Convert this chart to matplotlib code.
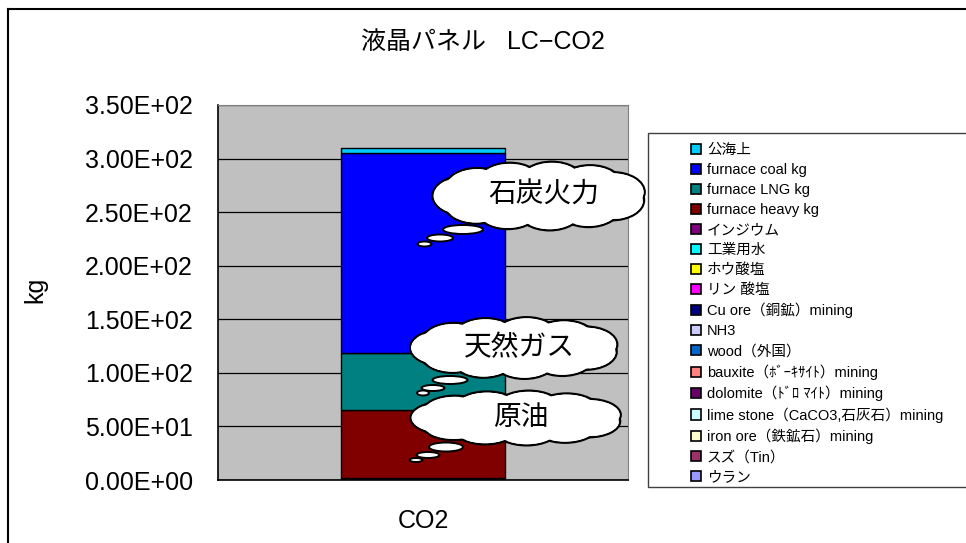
import numpy as np
import matplotlib
matplotlib.use("Agg")
import matplotlib.pyplot as plt
from matplotlib.patches import Ellipse, Rectangle, Patch

plt.rcParams['font.family'] = ['Liberation Sans', 'Noto Sans CJK JP']

# series, listed top of legend first (top of stack first)
labels = [
    "公海上", "furnace coal kg", "furnace LNG kg", "furnace heavy kg",
    "インジウム", "工業用水", "ホウ酸塩", "リン 酸塩", "Cu ore（銅鉱）mining",
    "NH3", "wood（外国）", "bauxite（ﾎﾞｰｷｻｲﾄ）mining",
    "dolomite（ﾄﾞﾛ ﾏｲﾄ）mining", "lime stone（CaCO3,石灰石）mining",
    "iron ore（鉄鉱石）mining", "スズ（Tin）", "ウラン",
]
values = [5.4, 186.6, 53.3, 63.0, 0.05, 0.02, 0.1, 0.05, 0.3,
          0.2, 0.1, 0.2, 0.05, 0.1, 0.4, 0.02, 0.3]
colors = [
    "#00CCFF", "#0000FF", "#008080", "#800000", "#800080", "#00FFFF",
    "#FFFF00", "#FF00FF", "#000080", "#CCCCFF", "#0066CC", "#FF8080",
    "#660066", "#CCFFFF", "#FFFFCC", "#993366", "#9999FF",
]
category = ["CO2"]
yticks = np.arange(0, 351, 50)

W, H = 966, 543
fig = plt.figure(figsize=(W / 100, H / 100), dpi=100)

ax = fig.add_axes([218 / W, 1 - 480 / H, 410 / W, 375 / H])
ax.set_facecolor("#C0C0C0")
ax.set_axisbelow(True)
ax.yaxis.grid(True, color="black", lw=0.9)

# stack from the bottom series (last in legend) upward
bottom = 0.0
for lab, val, col in reversed(list(zip(labels, values, colors))):
    ax.bar(0, val, width=0.4, bottom=bottom, color=col,
           edgecolor="black", lw=1.0)
    bottom += val

ax.set_xlim(-0.5, 0.5)
ax.set_ylim(0, 350)
ax.set_xticks([0])
ax.set_xticklabels(category, fontsize=18)
ax.set_yticks(yticks)
ax.set_yticklabels(["%.2E" % v for v in yticks], fontsize=18)
ax.tick_params(axis="x", length=0, pad=21)
ax.tick_params(axis="y", length=0, pad=18)
for s in ["top", "right"]:
    ax.spines[s].set_color("#808080")
for s in ["left", "bottom"]:
    ax.spines[s].set_color("black")
    ax.spines[s].set_linewidth(1.2)

fig.text(35 / W, 1 - 290 / H, "kg", rotation=90, fontsize=18,
         ha="center", va="center")
fig.text(483 / W, 1 - 42 / H, "液晶パネル   LC−CO2", fontsize=18,
         ha="center", va="center")

# overlay in pixel units for the chart border, clouds and legend box
ov = fig.add_axes([0, 0, 1, 1], zorder=3)
ov.set_xlim(0, W)
ov.set_ylim(H, 0)
ov.axis("off")
ov.patch.set_alpha(0)

ov.plot([8, W + 5], [9, 9], color="black", lw=1.5, clip_on=False)
ov.plot([8, 8], [9, H + 5], color="black", lw=1.5, clip_on=False)


def cloud(cx, cy, w, h, text, trail, n=11):
    a, b = w / 2, h / 2
    bw, bh = w * 0.30, h * 0.58
    ra, rb = a - bw / 2, b - bh / 2
    bumps = []
    for k in range(n):
        t = 2 * np.pi * k / n + 0.3
        bumps.append((cx + ra * np.cos(t), cy + rb * np.sin(t)))
    for (x, y) in bumps:
        ov.add_patch(Ellipse((x, y), bw, bh, facecolor="white",
                             edgecolor="black", lw=1.6, zorder=1))
    for (x, y) in bumps:
        ov.add_patch(Ellipse((x, y), bw - 2.5, bh - 2.5, facecolor="white",
                             edgecolor="none", zorder=2))
    ov.add_patch(Ellipse((cx, cy), 2 * ra + bw * 0.6, 2 * rb + bh * 0.6,
                         facecolor="white", edgecolor="none", zorder=2))
    for (x, y, ew, eh) in trail:
        ov.add_patch(Ellipse((x, y), ew, eh, facecolor="white",
                             edgecolor="black", lw=1.4, zorder=2))
    ov.text(cx + 4, cy, text, fontsize=20, ha="center", va="center", zorder=4)


cloud(540, 196, 215, 69, "石炭火力",
      [(463, 229.5, 40, 9), (440, 238, 26, 7), (424.5, 244, 14, 5)])
cloud(515, 348, 210, 62, "天然ガス",
      [(450, 380, 35, 8), (433, 388, 23, 6), (423, 393, 12, 5)])
cloud(517, 418, 213, 55, "原油",
      [(446, 447, 34, 9), (428, 455, 23, 6), (416, 460, 13, 4)])

ov.add_patch(Rectangle((648, 133), 400, 354, facecolor="white",
                       edgecolor="#404040", lw=1.0, zorder=5, clip_on=False))

handles = [Patch(facecolor=c, edgecolor="black", lw=1.2) for c in colors]
leg = fig.legend(handles, labels, loc="upper left",
                 bbox_to_anchor=(691 / W, 1 - 143 / H), frameon=False,
                 fontsize=10.5, handlelength=0.7, handleheight=0.7,
                 handletextpad=0.4, labelspacing=0.41, borderpad=0,
                 borderaxespad=0)
leg.set_zorder(10)

fig.savefig("out.png", dpi=100)
